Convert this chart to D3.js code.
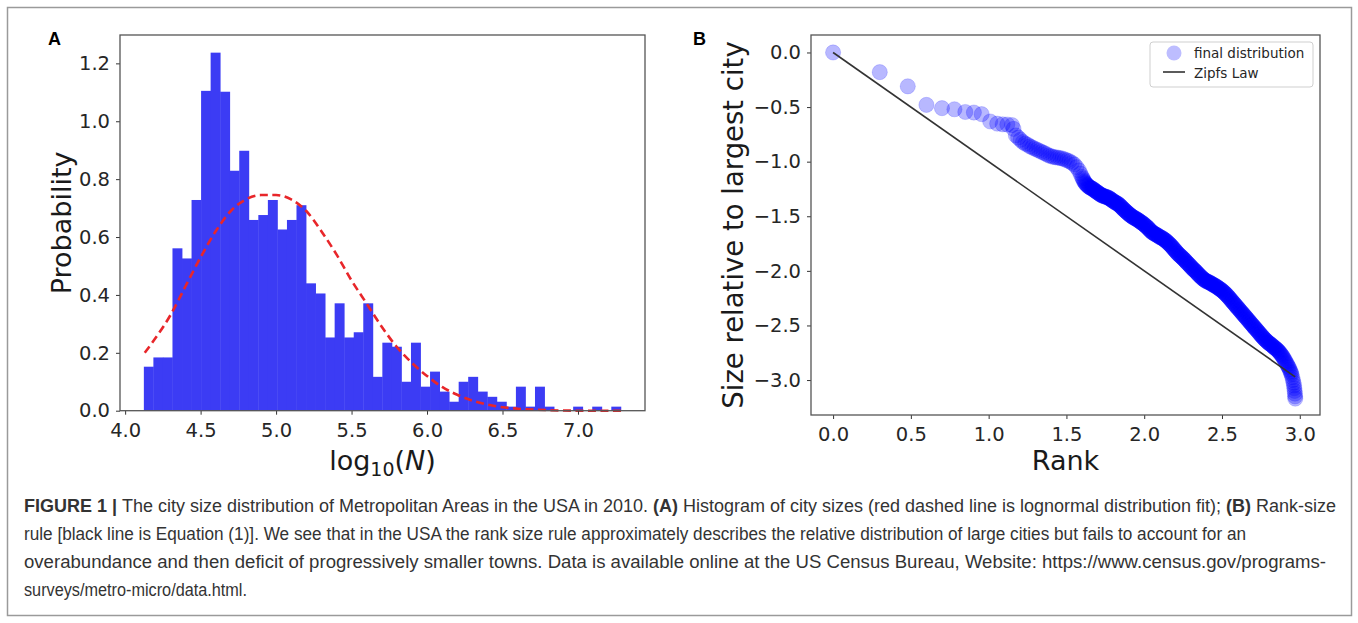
<!DOCTYPE html>
<html>
<head>
<meta charset="utf-8">
<script src="https://cdn.jsdelivr.net/npm/d3@7"></script>
<style>
  body { margin: 0; background: #fff; }
  svg { display: block; }
</style>
</head>
<body>
<svg id="fig" width="1358" height="623"></svg>
<script>
// ---- panel A: histogram of log10 city sizes (50 bins) ----
const binStart = 4.124;
const binWidth = 0.0632;
const histDensity = [
  0.152, 0.184, 0.184, 0.561, 0.526, 0.728, 1.105, 1.237, 1.102, 0.829,
  0.898, 0.659, 0.676, 0.728, 0.626, 0.659, 0.710, 0.440, 0.405, 0.253,
  0.371, 0.253, 0.271, 0.371, 0.117, 0.235, 0.221, 0.100, 0.235, 0.083,
  0.135, 0.066, 0.031, 0.100, 0.117, 0.066, 0.048, 0.031, 0.014, 0.083,
  0.014, 0.083, 0.014, 0, 0, 0.014, 0, 0.014, 0, 0.014
];
// red dashed fit
const fitX = [4.13, 4.2, 4.3, 4.4, 4.5, 4.6, 4.7, 4.8, 4.9, 5.0, 5.1, 5.2, 5.3, 5.4, 5.5,
  5.6, 5.7, 5.8, 5.9, 6.0, 6.1, 6.2, 6.3, 6.4, 6.5, 6.6, 6.8, 7.0, 7.29];
const fitY = [0.20, 0.25, 0.33, 0.43, 0.53, 0.62, 0.69, 0.73, 0.745, 0.745, 0.73, 0.69, 0.62, 0.54, 0.45,
  0.37, 0.29, 0.22, 0.165, 0.12, 0.082, 0.055, 0.035, 0.021, 0.012, 0.007, 0.002, 0.0, 0.0];
const histXTicks = [4.0, 4.5, 5.0, 5.5, 6.0, 6.5, 7.0];
const histYTicks = [0.0, 0.2, 0.4, 0.6, 0.8, 1.0, 1.2];

// ---- panel B: [log10 rank, log10 size relative to largest] ----
const rankSize = [
  [0, 0], [0.30, -0.18], [0.48, -0.31], [0.60, -0.48], [0.70, -0.51], [0.78, -0.52], [0.85, -0.545],
  [0.905, -0.55], [0.955, -0.565], [1.01, -0.632], [1.055, -0.652], [1.09, -0.658], [1.12, -0.66], [1.15, -0.665],
  [1.16, -0.70], [1.175, -0.76], [1.19, -0.78], [1.205, -0.80], [1.22, -0.82], [1.235, -0.835], [1.25, -0.845],
  [1.265, -0.86], [1.28, -0.87], [1.295, -0.88], [1.31, -0.89], [1.325, -0.90], [1.34, -0.91], [1.355, -0.92],
  [1.37, -0.93], [1.385, -0.942], [1.40, -0.95], [1.415, -0.956], [1.43, -0.96], [1.445, -0.963], [1.46, -0.967],
  [1.475, -0.972], [1.49, -0.98], [1.505, -0.988], [1.52, -0.997], [1.535, -1.01], [1.55, -1.025], [1.565, -1.05],
  [1.58, -1.08], [1.59, -1.11], [1.60, -1.14], [1.61, -1.17], [1.62, -1.195],
  [1.63, -1.21], [1.64, -1.225], [1.65, -1.235], [1.66, -1.243], [1.67, -1.25], [1.68, -1.262], [1.69, -1.272],
  [1.70, -1.282], [1.71, -1.292], [1.72, -1.302], [1.73, -1.31], [1.74, -1.315], [1.75, -1.32], [1.76, -1.325],
  [1.77, -1.33], [1.78, -1.34], [1.79, -1.35], [1.80, -1.36], [1.81, -1.37], [1.82, -1.378], [1.83, -1.385],
  [1.84, -1.397], [1.85, -1.41], [1.86, -1.425], [1.87, -1.44], [1.88, -1.452], [1.89, -1.465], [1.90, -1.478],
  [1.91, -1.49], [1.92, -1.50], [1.93, -1.51], [1.94, -1.518], [1.95, -1.525], [1.96, -1.535], [1.97, -1.545],
  [1.98, -1.555], [1.99, -1.565], [2.00, -1.575], [2.01, -1.59], [2.02, -1.60], [2.03, -1.615], [2.04, -1.632],
  [2.05, -1.645], [2.06, -1.655], [2.07, -1.663], [2.08, -1.67], [2.09, -1.68], [2.10, -1.69], [2.11, -1.695],
  [2.12, -1.705], [2.13, -1.715], [2.14, -1.725], [2.15, -1.738], [2.16, -1.752], [2.17, -1.765], [2.18, -1.782],
  [2.19, -1.798], [2.20, -1.815], [2.21, -1.832], [2.22, -1.847], [2.23, -1.86], [2.24, -1.873], [2.25, -1.887],
  [2.26, -1.90], [2.27, -1.917], [2.28, -1.932], [2.29, -1.945], [2.30, -1.962], [2.31, -1.977], [2.32, -1.99],
  [2.33, -2.003], [2.34, -2.018], [2.35, -2.035], [2.36, -2.048], [2.37, -2.062], [2.38, -2.075], [2.39, -2.085],
  [2.40, -2.095], [2.41, -2.10], [2.42, -2.107], [2.43, -2.115], [2.44, -2.125], [2.45, -2.132], [2.46, -2.14],
  [2.47, -2.15], [2.48, -2.16], [2.49, -2.17], [2.50, -2.18], [2.51, -2.193], [2.52, -2.207], [2.53, -2.22],
  [2.54, -2.237], [2.55, -2.253], [2.56, -2.27], [2.57, -2.287], [2.58, -2.303], [2.59, -2.32], [2.60, -2.337],
  [2.61, -2.353], [2.62, -2.37], [2.63, -2.387], [2.64, -2.403], [2.65, -2.42], [2.66, -2.437], [2.67, -2.453],
  [2.68, -2.47], [2.69, -2.487], [2.70, -2.503], [2.71, -2.52], [2.72, -2.537], [2.73, -2.553], [2.74, -2.57],
  [2.75, -2.587], [2.76, -2.603], [2.77, -2.62], [2.78, -2.633], [2.79, -2.647], [2.80, -2.66], [2.81, -2.67],
  [2.82, -2.68], [2.83, -2.695], [2.84, -2.705], [2.85, -2.717], [2.86, -2.73], [2.87, -2.747], [2.88, -2.765],
  [2.89, -2.785], [2.90, -2.808], [2.91, -2.835], [2.92, -2.86], [2.93, -2.887], [2.94, -2.92],
  [2.947, -2.95], [2.952, -2.975], [2.956, -3.00], [2.96, -3.025], [2.963, -3.05], [2.965, -3.075],
  [2.967, -3.10], [2.969, -3.125], [2.97, -3.15], [2.971, -3.17]
];
// second reading of the dense part of the band, between the ranks above
const rankSizeDense = [
  [1.605, -1.155], [1.615, -1.183], [1.625, -1.203], [1.635, -1.218], [1.645, -1.23], [1.655, -1.239],
  [1.665, -1.247], [1.675, -1.256], [1.685, -1.267], [1.695, -1.277], [1.705, -1.287], [1.715, -1.297],
  [1.725, -1.306], [1.735, -1.313], [1.745, -1.318], [1.755, -1.323], [1.765, -1.328], [1.775, -1.335],
  [1.785, -1.345], [1.795, -1.355], [1.805, -1.365], [1.815, -1.374], [1.825, -1.382], [1.835, -1.391],
  [1.845, -1.404], [1.855, -1.418], [1.865, -1.433], [1.875, -1.446], [1.885, -1.459], [1.895, -1.472],
  [1.905, -1.484], [1.915, -1.495], [1.925, -1.505], [1.935, -1.514], [1.945, -1.522], [1.955, -1.53],
  [1.965, -1.54], [1.975, -1.55], [1.985, -1.56], [1.995, -1.57], [2.005, -1.583], [2.015, -1.595],
  [2.025, -1.608], [2.035, -1.624], [2.045, -1.639], [2.055, -1.65], [2.065, -1.659], [2.075, -1.667],
  [2.085, -1.675], [2.095, -1.685], [2.105, -1.693], [2.115, -1.70], [2.125, -1.71], [2.135, -1.72],
  [2.145, -1.732], [2.155, -1.745], [2.165, -1.759], [2.175, -1.774], [2.185, -1.79], [2.195, -1.807],
  [2.205, -1.824], [2.215, -1.84], [2.225, -1.854], [2.235, -1.867], [2.245, -1.88], [2.255, -1.894],
  [2.265, -1.909], [2.275, -1.925], [2.285, -1.939], [2.295, -1.954], [2.305, -1.97], [2.315, -1.984],
  [2.325, -1.997], [2.335, -2.011], [2.345, -2.027], [2.355, -2.042], [2.365, -2.055], [2.375, -2.069],
  [2.385, -2.08], [2.395, -2.09], [2.405, -2.098], [2.415, -2.104], [2.425, -2.111], [2.435, -2.12],
  [2.445, -2.129], [2.455, -2.136], [2.465, -2.145], [2.475, -2.155], [2.485, -2.165], [2.495, -2.175],
  [2.505, -2.187], [2.515, -2.2], [2.525, -2.214], [2.535, -2.229], [2.545, -2.245], [2.555, -2.262],
  [2.565, -2.279], [2.575, -2.295], [2.585, -2.312], [2.595, -2.329], [2.605, -2.345], [2.615, -2.362],
  [2.625, -2.379], [2.635, -2.395], [2.645, -2.412], [2.655, -2.429], [2.665, -2.445], [2.675, -2.462],
  [2.685, -2.479], [2.695, -2.495], [2.705, -2.512], [2.715, -2.529], [2.725, -2.545], [2.735, -2.562],
  [2.745, -2.579], [2.755, -2.595], [2.765, -2.612], [2.775, -2.627], [2.785, -2.64], [2.795, -2.654],
  [2.805, -2.665], [2.815, -2.675], [2.825, -2.688], [2.835, -2.70], [2.845, -2.711], [2.855, -2.724],
  [2.865, -2.739], [2.875, -2.756], [2.885, -2.775], [2.895, -2.797], [2.905, -2.822], [2.915, -2.848],
  [2.925, -2.874], [2.935, -2.904], [2.944, -2.935]
];
const zipfX = [0, 2.97];
const zipfY = [0, -2.97];
const rankTicks = [0.0, 0.5, 1.0, 1.5, 2.0, 2.5, 3.0];
const sizeTicks = [0.0, -0.5, -1.0, -1.5, -2.0, -2.5, -3.0];
const legendLabels = ["final distribution", "Zipfs Law"];

// ---- caption (one array of [text, bold] parts per line) ----
const captionLines = [
  [["FIGURE 1 | ", true], ["The city size distribution of Metropolitan Areas in the USA in 2010. ", false],
   ["(A)", true], [" Histogram of city sizes (red dashed line is lognormal distribution fit); ", false],
   ["(B)", true], [" Rank-size", false]],
  [["rule [black line is Equation (1)]. We see that in the USA the rank size rule approximately describes the relative distribution of large cities but fails to account for an", false]],
  [["overabundance and then deficit of progressively smaller towns. Data is available online at the US Census Bureau, Website: https://www.census.gov/programs-", false]],
  [["surveys/metro-micro/data.html.", false]]
];
const captionWidths = [1312, 1222, 1302, 223];

const svg = d3.select("#fig");
const MPL = "'DejaVu Sans', sans-serif";

svg.append("rect").attr("width", 1358).attr("height", 623).attr("fill", "#fff");
// outer figure frame
svg.append("rect")
  .attr("x", 7.5).attr("y", 7.5)
  .attr("width", 1344).attr("height", 608)
  .attr("fill", "none").attr("stroke", "#9a9a9a").attr("stroke-width", 1.5);

function styleAxis(g) {
  g.select(".domain").remove();
  g.selectAll(".tick line").attr("stroke", "#333").attr("stroke-width", 1);
  g.selectAll(".tick text")
    .attr("fill", "#262626")
    .style("font-family", MPL)
    .style("font-size", "19.5px");
}

// ================= Panel A =================
const ax = { left: 120, right: 645, top: 35, bottom: 410.7 };
const xA = d3.scaleLinear().domain([3.966, 7.444]).range([ax.left, ax.right]);
const yA = d3.scaleLinear().domain([0, 1.298]).range([ax.bottom, ax.top]);

const gA = svg.append("g");
gA.selectAll("rect.bar")
  .data(histDensity)
  .join("rect")
  .attr("class", "bar")
  .attr("x", (d, i) => xA(binStart + i * binWidth))
  .attr("width", (d, i) => xA(binStart + (i + 1) * binWidth) - xA(binStart + i * binWidth) + 0.4)
  .attr("y", d => yA(d))
  .attr("height", d => yA(0) - yA(d))
  .attr("fill", "#3c3cf4");

const fitLine = d3.line()
  .x(d => xA(d[0])).y(d => yA(d[1]))
  .curve(d3.curveMonotoneX);
gA.append("path")
  .datum(fitX.map((x, i) => [x, fitY[i]]))
  .attr("d", fitLine)
  .attr("fill", "none")
  .attr("stroke", "#e8262a")
  .attr("stroke-width", 2.6)
  .attr("stroke-dasharray", "8,4.5");

gA.append("g")
  .attr("transform", `translate(0,${ax.bottom})`)
  .call(d3.axisBottom(xA).tickValues(histXTicks).tickFormat(d3.format(".1f")).tickSize(4).tickPadding(8))
  .call(styleAxis);
gA.append("g")
  .attr("transform", `translate(${ax.left},0)`)
  .call(d3.axisLeft(yA).tickValues(histYTicks).tickFormat(d3.format(".1f")).tickSize(4).tickPadding(6))
  .call(styleAxis);

gA.append("rect")
  .attr("x", ax.left).attr("y", ax.top)
  .attr("width", ax.right - ax.left).attr("height", ax.bottom - ax.top)
  .attr("fill", "none").attr("stroke", "#555").attr("stroke-width", 1.3);

gA.append("text")
  .attr("transform", `translate(71,${(ax.top + ax.bottom) / 2}) rotate(-90)`)
  .attr("text-anchor", "middle")
  .style("font-family", MPL).style("font-size", "27px").attr("fill", "#1a1a1a")
  .text("Probability");

const xlabA = gA.append("text")
  .attr("x", (ax.left + ax.right) / 2).attr("y", 470)
  .attr("text-anchor", "middle")
  .style("font-family", MPL).style("font-size", "27px").attr("fill", "#1a1a1a");
xlabA.append("tspan").text("log");
xlabA.append("tspan").attr("dy", 6).style("font-size", "19px").text("10");
xlabA.append("tspan").attr("dy", -6).text("(");
xlabA.append("tspan").style("font-style", "italic").text("N");
xlabA.append("tspan").text(")");

svg.append("text").attr("x", 48).attr("y", 45)
  .style("font-family", "'Liberation Sans', Arial, sans-serif").style("font-weight", "bold")
  .style("font-size", "18px").text("A");

// ================= Panel B =================
const bx = { left: 811, right: 1320, top: 35, bottom: 415 };
const xB = d3.scaleLinear().domain([-0.142, 3.13]).range([bx.left, bx.right]);
const yB = d3.scaleLinear().domain([0.16, -3.32]).range([bx.top, bx.bottom]);

const gB = svg.append("g");
gB.selectAll("circle.pt")
  .data(rankSize.concat(rankSizeDense))
  .join("circle")
  .attr("class", "pt")
  .attr("cx", d => xB(d[0]))
  .attr("cy", d => yB(d[1]))
  .attr("r", 7.6)
  .attr("fill", "#0000ff").attr("fill-opacity", 0.28)
  .attr("stroke", "#0000ff").attr("stroke-opacity", 0.16).attr("stroke-width", 1);

gB.append("path")
  .datum(zipfX.map((x, i) => [x, zipfY[i]]))
  .attr("d", d3.line().x(d => xB(d[0])).y(d => yB(d[1])))
  .attr("stroke", "#333").attr("stroke-width", 1.6).attr("fill", "none");

gB.append("g")
  .attr("transform", `translate(0,${bx.bottom})`)
  .call(d3.axisBottom(xB).tickValues(rankTicks).tickFormat(d3.format(".1f")).tickSize(4).tickPadding(8))
  .call(styleAxis);
gB.append("g")
  .attr("transform", `translate(${bx.left},0)`)
  .call(d3.axisLeft(yB).tickValues(sizeTicks).tickFormat(d3.format(".1f")).tickSize(4).tickPadding(6))
  .call(styleAxis);

gB.append("rect")
  .attr("x", bx.left).attr("y", bx.top)
  .attr("width", bx.right - bx.left).attr("height", bx.bottom - bx.top)
  .attr("fill", "none").attr("stroke", "#555").attr("stroke-width", 1.3);

gB.append("text")
  .attr("transform", `translate(743,${(bx.top + bx.bottom) / 2}) rotate(-90)`)
  .attr("text-anchor", "middle")
  .style("font-family", MPL).style("font-size", "27.5px").attr("fill", "#1a1a1a")
  .text("Size relative to largest city");

gB.append("text")
  .attr("x", (bx.left + bx.right) / 2).attr("y", 470)
  .attr("text-anchor", "middle")
  .style("font-family", MPL).style("font-size", "27px").attr("fill", "#1a1a1a")
  .text("Rank");

// legend
const lg = gB.append("g").attr("transform", "translate(1150,42)");
lg.append("rect").attr("width", 163).attr("height", 45).attr("rx", 3)
  .attr("fill", "#fff").attr("fill-opacity", 0.85).attr("stroke", "#cfcfcf");
lg.append("circle").attr("cx", 24).attr("cy", 11).attr("r", 7.5)
  .attr("fill", "#0000ff").attr("fill-opacity", 0.26);
lg.append("line").attr("x1", 13).attr("x2", 35).attr("y1", 30).attr("y2", 30)
  .attr("stroke", "#333").attr("stroke-width", 1.6);
lg.selectAll("text.lab").data(legendLabels).join("text")
  .attr("class", "lab")
  .attr("x", 44).attr("y", (d, i) => 16 + i * 19.5)
  .style("font-family", MPL).style("font-size", "13.5px").attr("fill", "#262626")
  .text(d => d);

svg.append("text").attr("x", 693).attr("y", 45)
  .style("font-family", "'Liberation Sans', Arial, sans-serif").style("font-weight", "bold")
  .style("font-size", "18px").text("B");

// ================= Caption =================
const cap = svg.append("g");
captionLines.forEach((parts, li) => {
  const t = cap.append("text")
    .attr("x", 24).attr("y", 512 + li * 28)
    .style("font-family", "'Liberation Sans Narrow', 'Liberation Sans', Arial, sans-serif")
    .style("font-size", "17.5px").attr("fill", "#333")
    .attr("textLength", captionWidths[li]).attr("lengthAdjust", "spacingAndGlyphs");
  parts.forEach(([txt, bold]) => {
    t.append("tspan").style("font-weight", bold ? "bold" : "normal").text(txt);
  });
});
</script>
</body>
</html>
